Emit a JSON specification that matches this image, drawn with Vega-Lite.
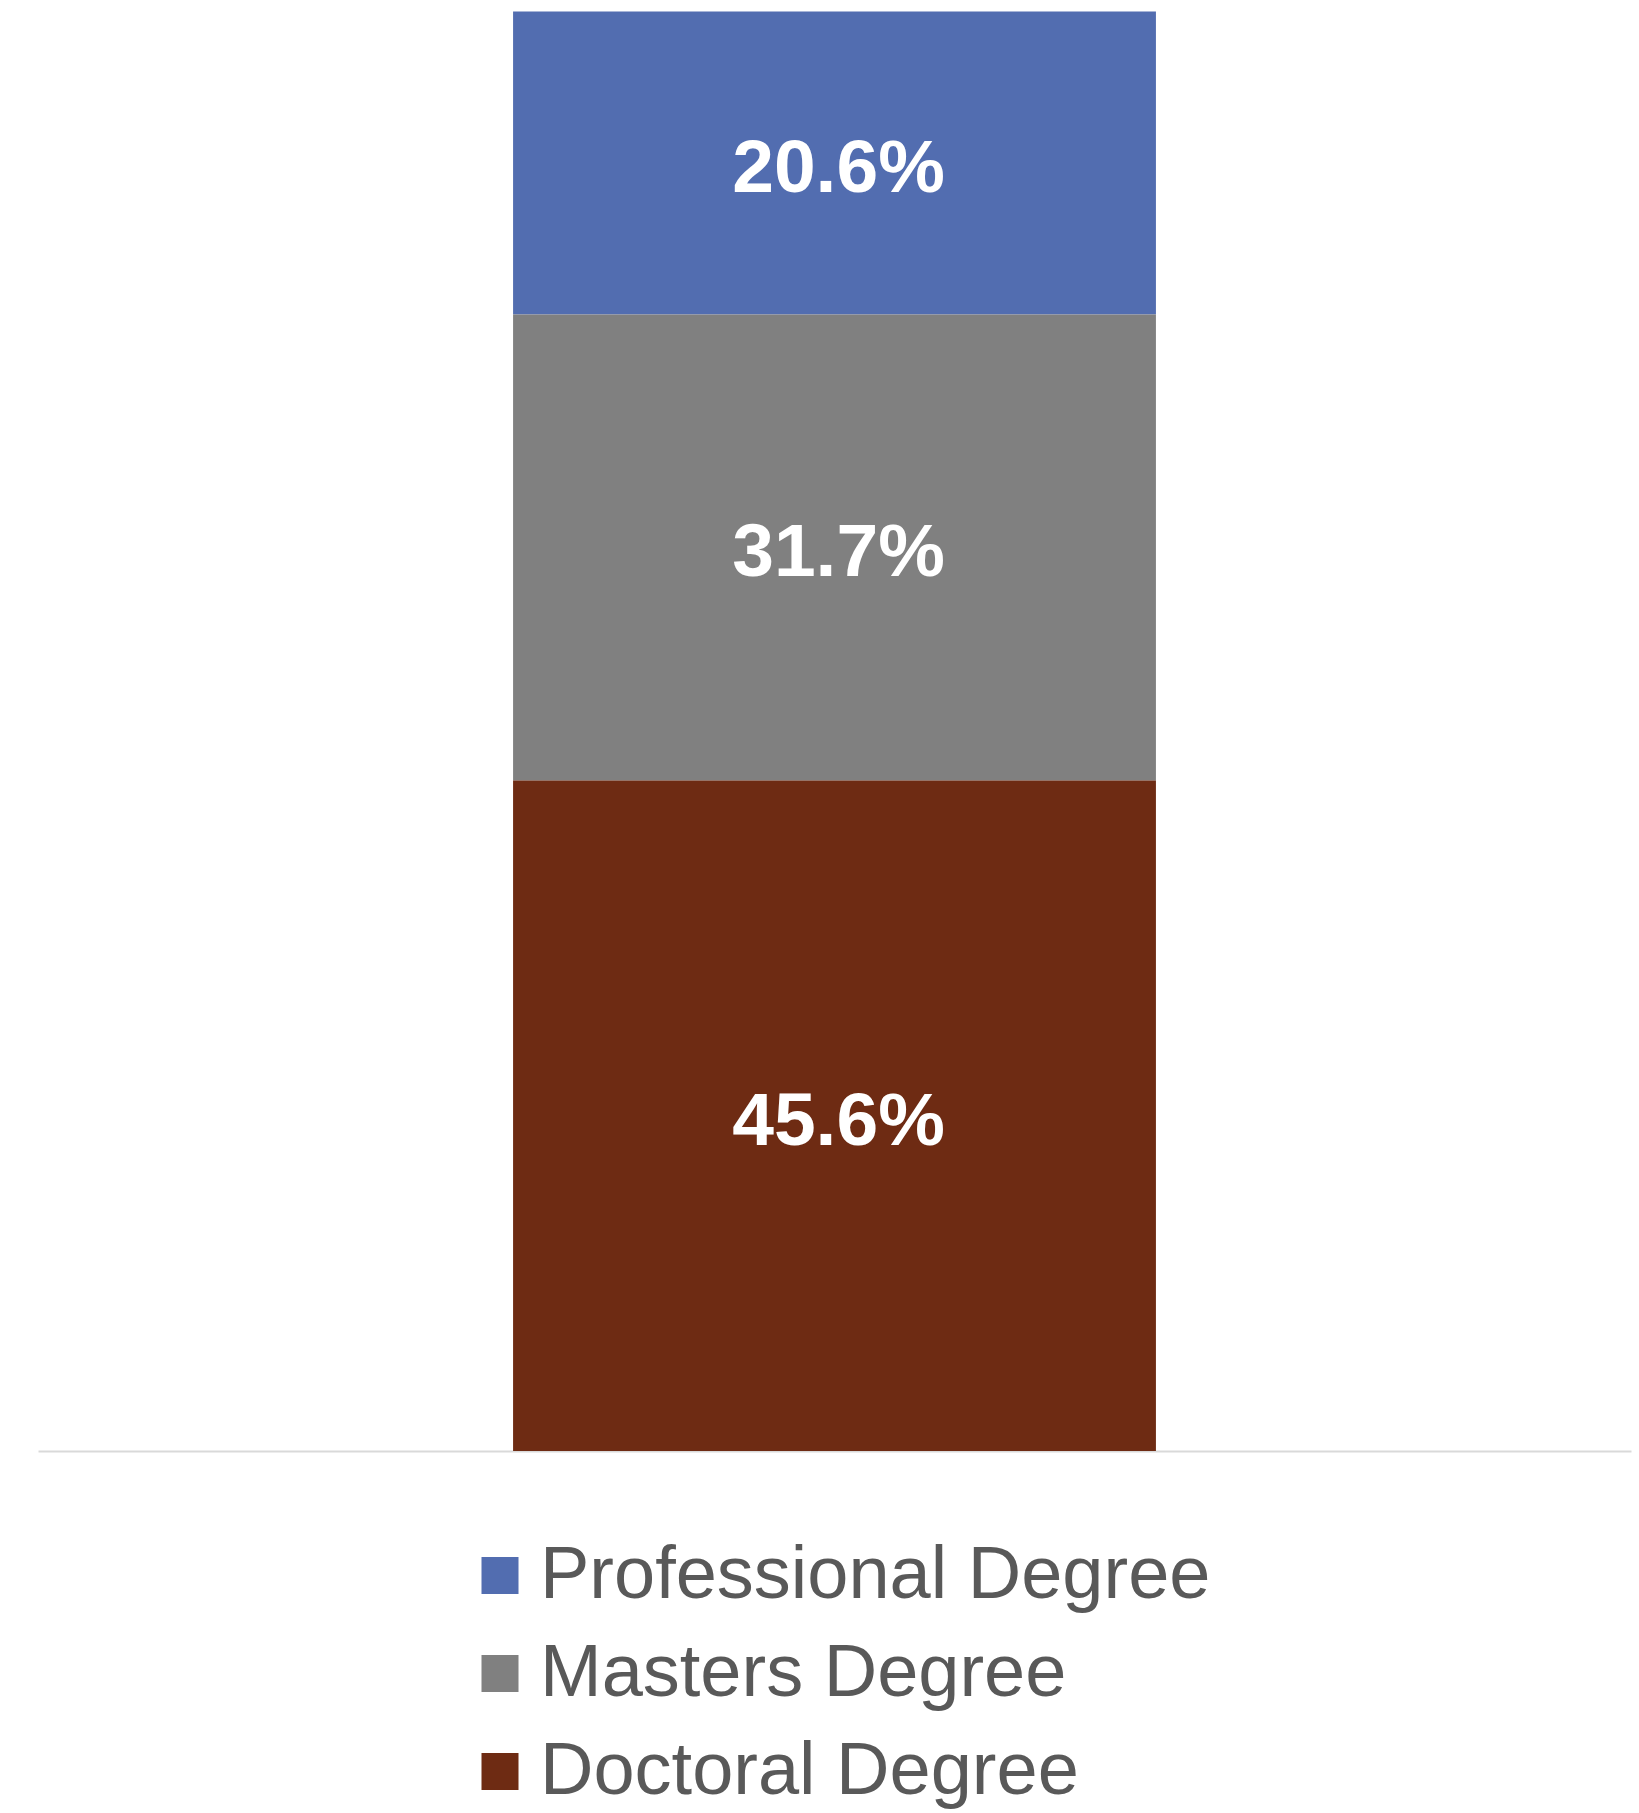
{
  "$schema": "https://vega.github.io/schema/vega-lite/v6.json",
  "width": 1593,
  "height": 1439.5,
  "autosize": {"type": "none"},
  "padding": {"left": 38, "top": 11.5, "right": 8, "bottom": 362},
  "background": "#ffffff",
  "data": {
    "values": [
      {"group": "All", "degree": "Professional Degree", "share": 0.206},
      {"group": "All", "degree": "Masters Degree", "share": 0.317},
      {"group": "All", "degree": "Doctoral Degree", "share": 0.456}
    ]
  },
  "config": {
    "view": {"stroke": null},
    "font": "Liberation Sans"
  },
  "encoding": {
    "x": {
      "field": "group",
      "type": "nominal",
      "scale": {"paddingInner": 0, "paddingOuter": 0.739},
      "axis": {
        "title": null,
        "labels": false,
        "ticks": false,
        "domainColor": "#d9d9d9",
        "domainWidth": 2,
        "grid": false
      }
    },
    "order": {"field": "degree", "type": "nominal", "sort": "ascending"}
  },
  "layer": [
    {
      "mark": {"type": "bar"},
      "encoding": {
        "y": {
          "field": "share",
          "type": "quantitative",
          "stack": "zero",
          "scale": {"domain": [0, 0.979], "nice": false},
          "axis": null
        },
        "color": {
          "field": "degree",
          "type": "nominal",
          "scale": {
            "domain": ["Professional Degree", "Masters Degree", "Doctoral Degree"],
            "range": ["#526db0", "#808080", "#6e2b13"]
          },
          "legend": {
            "title": null,
            "orient": "none",
            "legendX": 425,
            "legendY": 1527,
            "symbolType": "square",
            "symbolSize": 1369,
            "symbolStrokeWidth": 0,
            "labelFontSize": 74,
            "labelColor": "#595959",
            "labelFont": "Liberation Sans",
            "labelOffset": 3,
            "rowPadding": 24,
            "labelLimit": 0
          }
        }
      }
    },
    {
      "mark": {
        "type": "text",
        "color": "#ffffff",
        "fontSize": 75,
        "fontWeight": "bold",
        "font": "Liberation Sans",
        "baseline": "middle",
        "align": "center",
        "dx": 4,
        "dy": 6
      },
      "encoding": {
        "y": {
          "field": "share",
          "type": "quantitative",
          "stack": "zero",
          "bandPosition": 0.5
        },
        "detail": {"field": "degree", "type": "nominal"},
        "text": {"field": "share", "type": "quantitative", "format": ".1%"}
      }
    }
  ]
}
